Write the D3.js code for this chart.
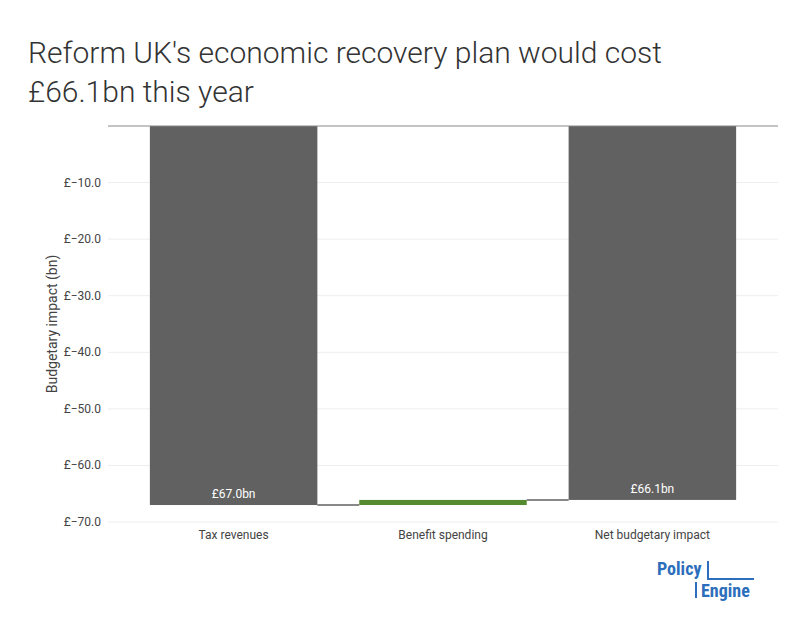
<!DOCTYPE html><html><head><meta charset="utf-8">
<script src="https://cdn.jsdelivr.net/npm/d3@7"></script>
<style>body{margin:0;background:#fff;font-family:Roboto,"Open Sans",sans-serif}</style></head><body>
<svg id="c" width="797" height="643"></svg>
<script>
const categories=["Tax revenues","Benefit spending","Net budgetary impact"];
const bases=[0,-67.0,0];
const ends=[-67.0,-66.1,-66.1];
const labels=["£67.0bn","","£66.1bn"];
const colors=["#616161","#558b2f","#616161"];
const yTicks=[-10,-20,-30,-40,-50,-60,-70];
const svg=d3.select("#c");
const m={l:108,r:778,t:126,b:522};
const x=d3.scaleBand().domain(categories).range([m.l,m.r]).padding(0.2);
const y=d3.scaleLinear().domain([0,-70]).range([m.t,m.b]);
const tt=svg.append("text").attr("font-family","Roboto").attr("font-weight",300).attr("font-size",30).attr("fill","#333");
tt.append("tspan").attr("x",28).attr("y",63).text("Reform UK's economic recovery plan would cost");
tt.append("tspan").attr("x",28).attr("y",102).text("£66.1bn this year");
// grid
svg.append("g").selectAll("line").data(yTicks).join("line")
 .attr("x1",m.l).attr("x2",m.r).attr("y1",d=>y(d)).attr("y2",d=>y(d)).attr("stroke","#eee");
svg.append("g").selectAll("text").data(yTicks).join("text")
 .attr("x",m.l-7).attr("y",d=>y(d)+4).attr("text-anchor","end").attr("font-size",12).attr("fill","#444")
 .text(d=>"£−"+Math.abs(d).toFixed(1));
svg.append("text").attr("transform",`translate(57,${(m.t+m.b)/2}) rotate(-90)`).attr("text-anchor","middle")
 .attr("font-size",14).attr("fill","#444").text("Budgetary impact (bn)");
// bars
svg.append("g").selectAll("rect").data(categories).join("rect")
 .attr("x",d=>x(d)).attr("width",x.bandwidth())
 .attr("y",(d,i)=>y(Math.max(bases[i],ends[i]))).attr("height",(d,i)=>Math.abs(y(bases[i])-y(ends[i])))
 .attr("fill",(d,i)=>colors[i]);
// connectors
for(let i=0;i<categories.length-1;i++){
 svg.append("line").attr("x1",x(categories[i])+x.bandwidth()).attr("x2",x(categories[i+1]))
  .attr("y1",y(ends[i])).attr("y2",y(ends[i])).attr("stroke","#616161").attr("stroke-width",1.5);
}
svg.append("line").attr("x1",m.l).attr("x2",m.r).attr("y1",m.t).attr("y2",m.t).attr("stroke","#888");
svg.append("g").selectAll("text").data(categories).join("text")
 .attr("x",(d,i)=>x(d)+x.bandwidth()/2).attr("y",(d,i)=>y(ends[i])-7).attr("text-anchor","middle")
 .attr("font-size",12).attr("fill","#fff").text((d,i)=>labels[i]);
svg.append("g").selectAll("text").data(categories).join("text")
 .attr("x",d=>x(d)+x.bandwidth()/2).attr("y",m.b+17).attr("text-anchor","middle")
 .attr("font-size",12).attr("fill","#444").text(d=>d);
// logo
const lg=svg.append("g").attr("fill","#2c6ebc").attr("font-weight",700).attr("font-size",18).attr("font-family","Roboto Condensed,Roboto");
lg.append("text").attr("x",657).attr("y",575).text("Policy");
lg.append("text").attr("x",701).attr("y",597).text("Engine");
svg.append("path").attr("d","M708,561 V579 H754 M696,582 V598").attr("stroke","#2c6ebc").attr("stroke-width",2).attr("fill","none");
</script></body></html>
